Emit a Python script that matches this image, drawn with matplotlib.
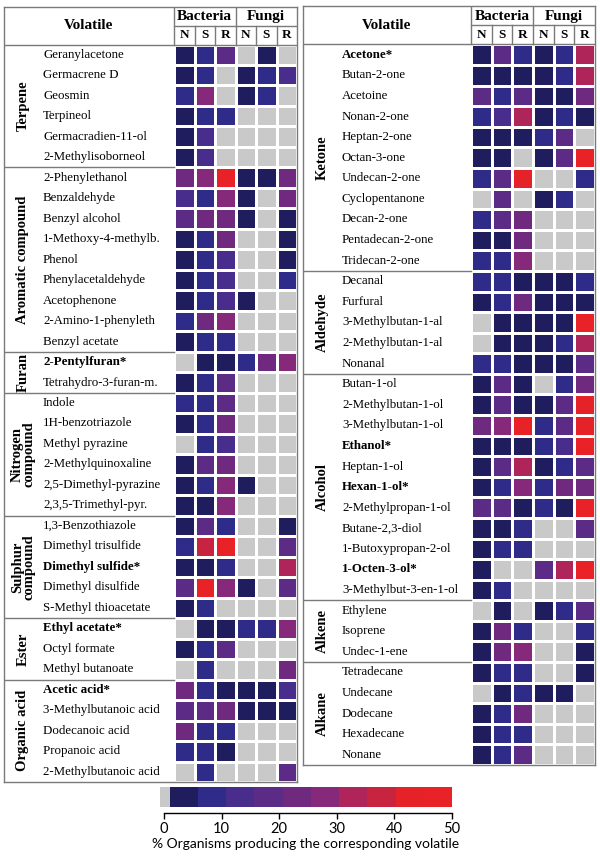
import matplotlib
matplotlib.use("Agg")
import matplotlib.pyplot as plt
import numpy as np
from matplotlib.colors import ListedColormap, BoundaryNorm

# --- data -----------------------------------------------------------------
columns = ["N", "S", "R", "N", "S", "R"]
kingdoms = ["Bacteria", "Fungi"]

left_groups = ["Terpene", "Aromatic compound", "Furan", "Nitrogen\ncompound",
               "Sulphur\ncompound", "Ester", "Organic acid"]
left_sizes = [6, 9, 2, 6, 5, 3, 5]
left_names = [
    "Geranylacetone", "Germacrene D", "Geosmin", "Terpineol", "Germacradien-11-ol",
    "2-Methylisoborneol",
    "2-Phenylethanol", "Benzaldehyde", "Benzyl alcohol", "1-Methoxy-4-methylb.", "Phenol",
    "Phenylacetaldehyde", "Acetophenone", "2-Amino-1-phenyleth", "Benzyl acetate",
    "2-Pentylfuran*", "Tetrahydro-3-furan-m.",
    "Indole", "1H-benzotriazole", "Methyl pyrazine", "2-Methylquinoxaline",
    "2,5-Dimethyl-pyrazine", "2,3,5-Trimethyl-pyr.",
    "1,3-Benzothiazole", "Dimethyl trisulfide", "Dimethyl sulfide*", "Dimethyl disulfide",
    "S-Methyl thioacetate",
    "Ethyl acetate*", "Octyl formate", "Methyl butanoate",
    "Acetic acid*", "3-Methylbutanoic acid", "Dodecanoic acid", "Propanoic acid",
    "2-Methylbutanoic acid",
]
# % organisms producing: bacteria N, S, R, fungi N, S, R (0 = not reported)
left_values = [
    [4, 9, 18, 0, 4, 0],
    [4, 9, 0, 4, 9, 14],
    [9, 28, 0, 4, 9, 0],
    [4, 9, 9, 0, 0, 0],
    [4, 14, 0, 0, 0, 0],
    [4, 14, 0, 0, 0, 0],
    [23, 30, 48, 4, 4, 23],
    [14, 9, 28, 4, 0, 23],
    [18, 23, 23, 4, 0, 4],
    [4, 9, 23, 0, 0, 4],
    [4, 9, 14, 0, 0, 4],
    [4, 9, 14, 0, 0, 9],
    [4, 9, 14, 4, 0, 0],
    [9, 23, 28, 0, 0, 0],
    [4, 9, 9, 0, 0, 0],
    [0, 4, 4, 9, 23, 28],
    [4, 9, 18, 0, 0, 0],
    [9, 9, 18, 0, 0, 0],
    [4, 9, 23, 0, 0, 0],
    [0, 9, 14, 0, 0, 0],
    [4, 18, 23, 0, 0, 0],
    [4, 9, 30, 4, 0, 0],
    [4, 4, 28, 0, 0, 0],
    [4, 18, 9, 0, 0, 4],
    [9, 36, 46, 0, 0, 18],
    [4, 4, 9, 0, 0, 33],
    [18, 46, 30, 4, 0, 18],
    [4, 9, 0, 0, 0, 0],
    [0, 4, 4, 9, 9, 30],
    [4, 9, 16, 0, 0, 0],
    [0, 9, 0, 0, 0, 25],
    [25, 9, 4, 4, 4, 14],
    [18, 18, 25, 4, 4, 4],
    [25, 9, 9, 0, 0, 0],
    [9, 9, 4, 0, 0, 0],
    [0, 9, 0, 0, 0, 20],
]

right_groups = ["Ketone", "Aldehyde", "Alcohol", "Alkene", "Alkane"]
right_sizes = [11, 5, 11, 3, 5]
right_names = [
    "Acetone*", "Butan-2-one", "Acetoine", "Nonan-2-one", "Heptan-2-one", "Octan-3-one",
    "Undecan-2-one", "Cyclopentanone", "Decan-2-one", "Pentadecan-2-one", "Tridecan-2-one",
    "Decanal", "Furfural", "3-Methylbutan-1-al", "2-Methylbutan-1-al", "Nonanal",
    "Butan-1-ol", "2-Methylbutan-1-ol", "3-Methylbutan-1-ol", "Ethanol*", "Heptan-1-ol",
    "Hexan-1-ol*", "2-Methylpropan-1-ol", "Butane-2,3-diol", "1-Butoxypropan-2-ol",
    "1-Octen-3-ol*", "3-Methylbut-3-en-1-ol",
    "Ethylene", "Isoprene", "Undec-1-ene",
    "Tetradecane", "Undecane", "Dodecane", "Hexadecane", "Nonane",
]
right_values = [
    [4, 18, 9, 4, 9, 33],
    [4, 4, 4, 4, 9, 33],
    [16, 9, 20, 4, 4, 23],
    [9, 14, 33, 4, 9, 4],
    [4, 4, 4, 9, 20, 0],
    [4, 4, 0, 4, 16, 48],
    [9, 20, 43, 0, 0, 9],
    [0, 16, 0, 4, 9, 0],
    [9, 16, 23, 0, 0, 0],
    [4, 4, 23, 0, 0, 0],
    [9, 9, 28, 0, 0, 0],
    [9, 9, 4, 4, 4, 9],
    [4, 9, 23, 4, 4, 4],
    [0, 4, 4, 4, 4, 48],
    [0, 4, 4, 4, 9, 33],
    [9, 9, 4, 4, 4, 16],
    [4, 16, 4, 0, 9, 25],
    [4, 16, 4, 4, 16, 44],
    [23, 30, 46, 9, 20, 42],
    [4, 4, 4, 9, 14, 48],
    [4, 16, 33, 4, 9, 20],
    [4, 9, 30, 9, 23, 23],
    [18, 18, 4, 9, 4, 48],
    [4, 4, 9, 0, 0, 20],
    [4, 9, 9, 0, 0, 0],
    [4, 0, 0, 18, 33, 48],
    [4, 9, 0, 0, 0, 0],
    [0, 4, 0, 4, 9, 20],
    [4, 23, 9, 0, 0, 9],
    [4, 23, 30, 0, 0, 4],
    [4, 9, 9, 0, 0, 4],
    [0, 4, 9, 4, 4, 0],
    [4, 9, 23, 0, 0, 0],
    [4, 9, 9, 0, 0, 0],
    [4, 9, 16, 0, 0, 0],
]

bounds = [-0.7, 1, 5.9, 10.8, 15.7, 20.6, 25.5, 30.4, 35.3, 40.2, 45.1, 50]
colors = ["#c9c9c9", "#1f1d5e", "#2e2c88", "#482d8d", "#5c2b86", "#6f2a80",
          "#86297a", "#b02559", "#c9243f", "#e52228", "#e92227"]
cbar_ticks = [0, 10, 20, 30, 40, 50]

# --- styling --------------------------------------------------------------
plt.rcParams["font.family"] = ["Liberation Serif", "DejaVu Serif"]
cmap = ListedColormap(colors)
norm = BoundaryNorm(bounds, len(colors))
LINE = "#7a7a7a"
W, H = 600, 859

fig = plt.figure(figsize=(W / 100, H / 100), dpi=100)


def draw_panel(x0, y0, xc, yh, x1, y1, names, groups, sizes, values):
    """Pixel box: table left/top, cell-left, header bottom, right/bottom."""
    n = len(names)
    cw = (x1 - xc) / 6
    rh = (y1 - yh) / n
    xmin = -(xc - x0) / cw
    hh = (yh - y0) / rh
    ax = fig.add_axes([x0 / W, 1 - y1 / H, (x1 - x0) / W, (y1 - y0) / H])
    ax.set_xlim(xmin, 6)
    ax.set_ylim(n, -hh)
    ax.set_xticks([])
    ax.set_yticks([])
    for sp in ax.spines.values():
        sp.set_color(LINE)
        sp.set_linewidth(1.0)

    ax.pcolormesh(np.arange(7), np.arange(n + 1), np.array(values), cmap=cmap,
                  norm=norm, edgecolors="white", linewidth=1.0)

    # header grid
    kw = dict(color=LINE, lw=1.0)
    ax.plot([xmin, 6], [0, 0], **kw)
    ax.plot([0, 6], [-hh / 2, -hh / 2], **kw)
    ax.plot([0, 0], [-hh, 0], **kw)
    ax.plot([3, 3], [-hh, 0], **kw)
    for c in [1, 2, 4, 5]:
        ax.plot([c, c], [-hh / 2, 0], **kw)
    ax.text(xmin / 2, -hh / 2, "Volatile", ha="center", va="center",
            fontsize=11, fontweight="bold")
    for i, k in enumerate(kingdoms):
        ax.text(1.5 + 3 * i, -hh * 0.74, k, ha="center", va="center",
                fontsize=11, fontweight="bold")
    for i, c in enumerate(columns):
        ax.text(i + 0.5, -hh * 0.24, c, ha="center", va="center",
                fontsize=9.5, fontweight="bold")

    # row names
    name_x = xmin + 39 / cw
    for i, nm in enumerate(names):
        ax.text(name_x, i + 0.5, nm, ha="left", va="center", fontsize=9.3,
                fontweight="bold" if nm.endswith("*") else "normal")

    # groups
    cat_x = xmin + 19 / cw
    start = 0
    for g, s in zip(groups, sizes):
        ax.text(cat_x, start + s / 2, g, rotation=90, ha="center", va="center",
                fontsize=10.5, fontweight="bold", linespacing=0.85,
                multialignment="center")
        start += s
        if start < n:
            ax.plot([xmin, 0], [start, start], **kw)


draw_panel(4, 6.5, 174, 44.5, 297, 782, left_names, left_groups, left_sizes, left_values)
draw_panel(303, 6.5, 471, 44.5, 595, 765, right_names, right_groups, right_sizes,
           right_values)

# --- colour bar -----------------------------------------------------------
cax = fig.add_axes([160 / W, 1 - 807 / H, 292 / W, 20 / H])
centers = [(a + b) / 2 for a, b in zip(bounds[:-1], bounds[1:])]
cax.pcolormesh(bounds, [0, 1], [centers], cmap=cmap, norm=norm)
cax.set_xlim(bounds[0], bounds[-1])
cax.set_ylim(0, 1)
cax.set_yticks([])
for side in ["left", "right", "top"]:
    cax.spines[side].set_visible(False)
cax.spines["bottom"].set_position(("outward", 4.5))
cax.spines["bottom"].set_bounds(0, 50)
cax.spines["bottom"].set_linewidth(1.0)
cax.set_xticks(cbar_ticks)
cax.tick_params(axis="x", direction="out", length=4.5, width=1.0, pad=1.5)
for lab in cax.get_xticklabels():
    lab.set_family("Lato")
    lab.set_fontsize(10.5)
cax.set_xlabel("% Organisms producing the corresponding volatile",
               family="Lato", fontsize=10, labelpad=2)

fig.savefig("out.png", dpi=100)
